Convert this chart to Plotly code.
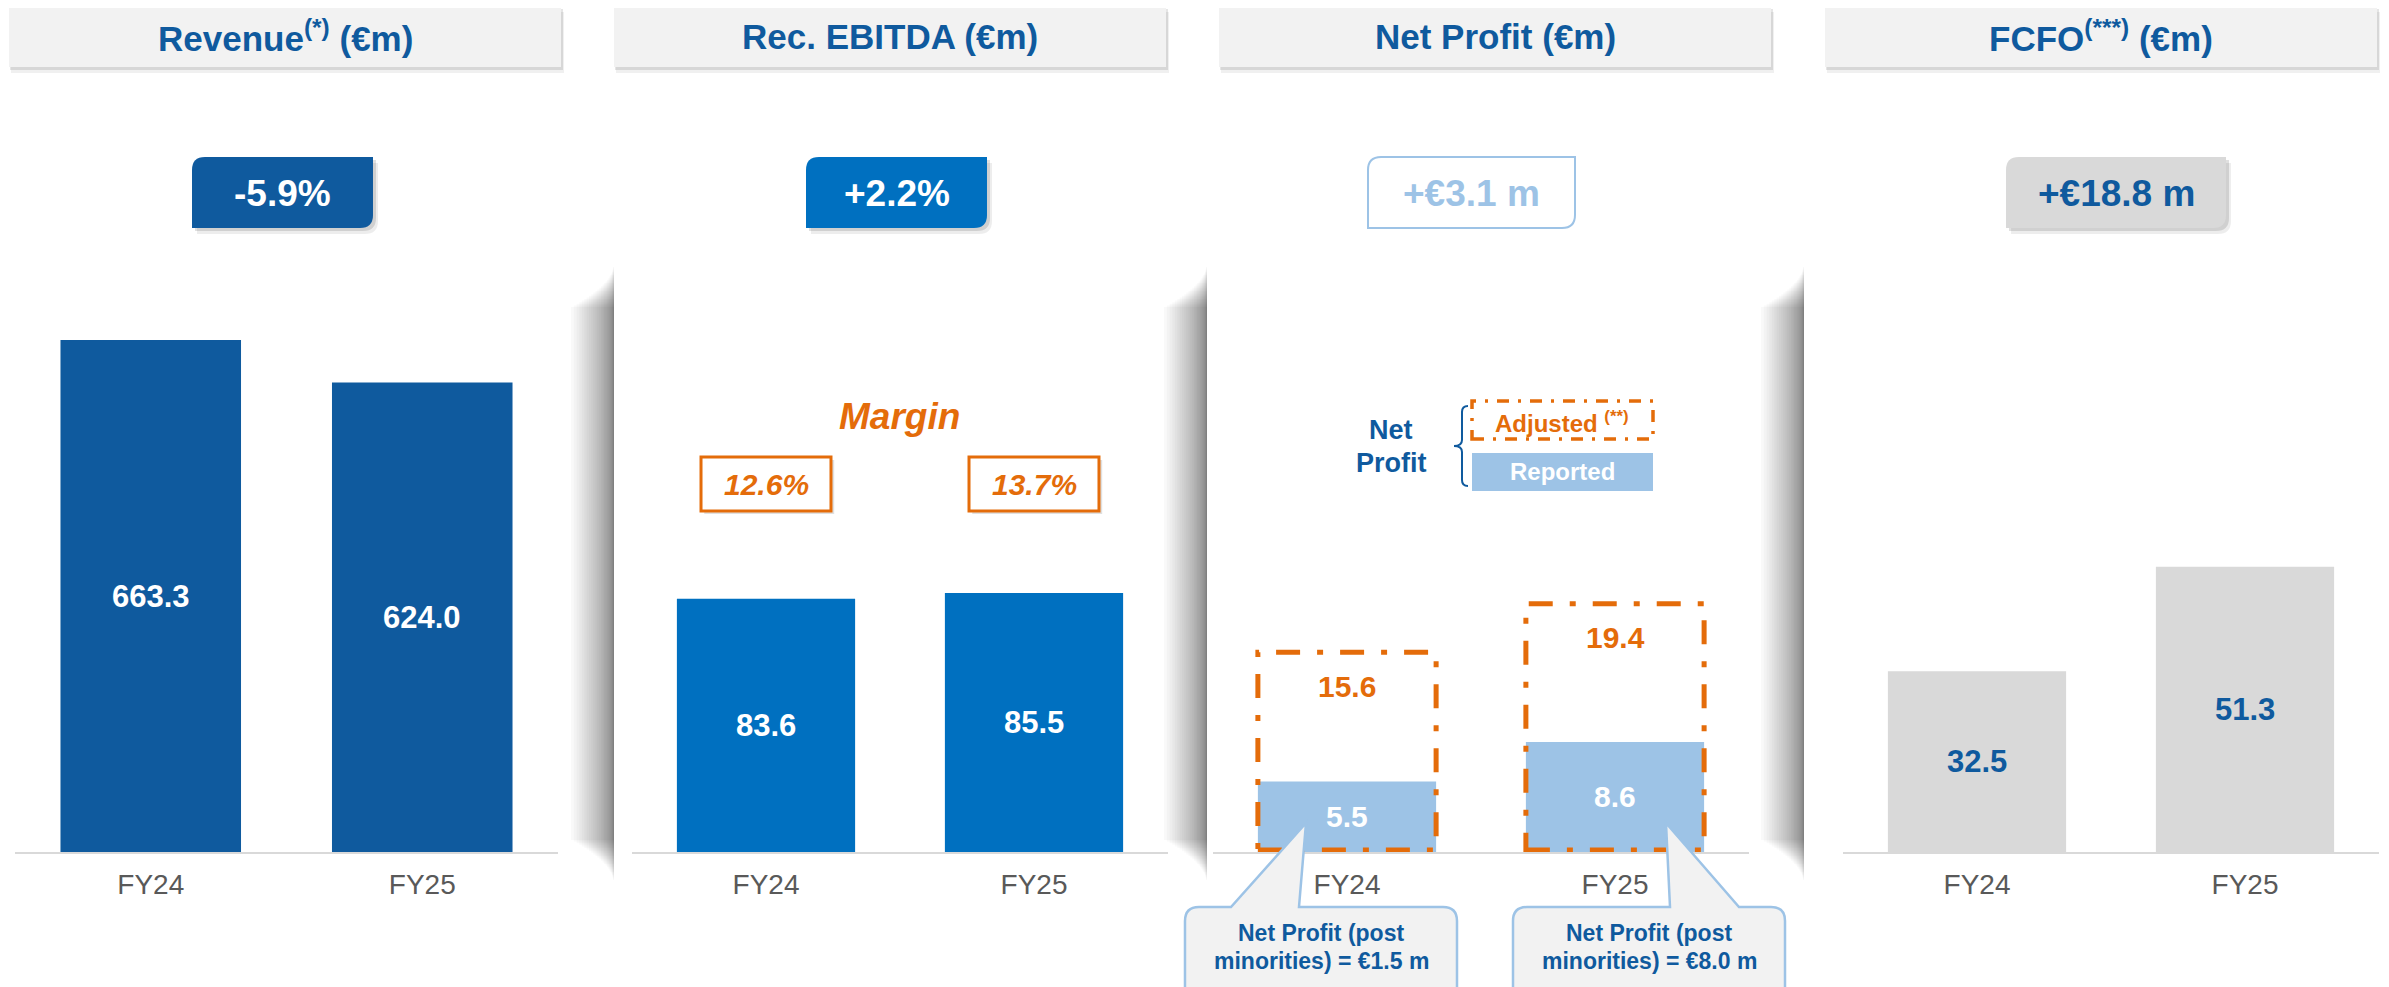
import plotly.graph_objects as go

# ---------------- data ----------------
categories = ["FY24", "FY25"]
revenue = [663.3, 624.0]
rec_ebitda = [83.6, 85.5]
ebitda_margin = [12.6, 13.7]
np_reported = [5.5, 8.6]
np_adjusted = [15.6, 19.4]
np_post_minorities = [1.5, 8.0]
fcfo = [32.5, 51.3]
change_labels = ["-5.9%", "+2.2%", "+€3.1 m", "+€18.8 m"]
panel_titles = ["Revenue<sup>(*)</sup> (€m)", "Rec. EBITDA (€m)",
                "Net Profit (€m)", "FCFO<sup>(***)</sup> (€m)"]

# ---------------- style ----------------
W, H = 2389, 987
OFF = 8
FONT = "Liberation Sans, Arial, sans-serif"
DARK = "#0F5A9E"
MID = "#0070C0"
LIGHT = "#9DC3E6"
GRAY = "#D9D9D9"
ORANGE = "#E46C0A"
HEADER = "#F2F2F2"
TICK = "#595959"


def X(p):
    return (p - OFF) / W


def Y(p):
    return 1 - (p - OFF) / H


def P(pts):
    """build svg path in paper coords from pixel commands"""
    out = []
    for cmd in pts:
        s = cmd[0]
        for (x, y) in cmd[1:]:
            s += f" {X(x):.5f},{Y(y):.5f}"
        out.append(s)
    return " ".join(out)


shapes = []
annotations = []


def rect_px(x0, y0, x1, y1, fill=None, line_color=None, line_width=0, layer="below", dash=None):
    d = dict(type="rect", xref="paper", yref="paper", x0=X(x0), x1=X(x1), y0=Y(y1), y1=Y(y0),
             layer=layer, line=dict(width=line_width, color=line_color or "rgba(0,0,0,0)"))
    if dash:
        d["line"]["dash"] = dash
    if fill:
        d["fillcolor"] = fill
    shapes.append(d)


def text_px(text, x, y, size, color, bold=True, italic=False, xanchor="center"):
    t = text
    if bold:
        t = f"<b>{t}</b>"
    if italic:
        t = f"<i>{t}</i>"
    annotations.append(dict(text=t, x=X(x), y=Y(y), xref="paper", yref="paper", showarrow=False,
                            xanchor=xanchor, yanchor="middle",
                            font=dict(family=FONT, size=size, color=color)))


# card shadows (smooth vertical gradients)
N = 26
for xe in [614, 1207, 1804]:
    for i in range(N):
        w = 1 + 42 * (i / (N - 1)) ** 1.7
        d = 1.6 * i
        rect_px(xe - w, 267 + d, xe, 880 - d, fill="rgba(0,0,0,0.024)")

# headers
headers = [(9, 561), (614, 1166), (1219, 1771), (1825, 2377)]
for (x0, x1), title in zip(headers, panel_titles):
    rect_px(x0 + 2, 6 + 6, x1 + 3, 67 + 6, fill="rgba(0,0,0,0.06)")
    rect_px(x0 + 1, 6 + 3, x1 + 2, 67 + 3, fill="rgba(0,0,0,0.10)")
    rect_px(x0, 6, x1, 67, fill=HEADER)
    text_px(title, (x0 + x1) / 2, 36, 35, DARK)


# badges
def badge(x0, x1, fill, border, txt, txtcolor, shadow=True):
    y0, y1, r = 157, 228, 13

    def pth(dx, dy):
        return P([("M", (x0 + r + dx, y0 + dy)), ("L", (x1 + dx, y0 + dy)), ("L", (x1 + dx, y1 - r + dy)),
                  ("Q", (x1 + dx, y1 + dy), (x1 - r + dx, y1 + dy)), ("L", (x0 + dx, y1 + dy)),
                  ("L", (x0 + dx, y0 + r + dy)), ("Q", (x0 + dx, y0 + dy), (x0 + r + dx, y0 + dy)), ("Z",)])
    if shadow:
        shapes.append(dict(type="path", path=pth(5, 6), xref="paper", yref="paper",
                           fillcolor="rgba(0,0,0,0.07)", line=dict(width=0), layer="below"))
        shapes.append(dict(type="path", path=pth(3, 3), xref="paper", yref="paper",
                           fillcolor="rgba(0,0,0,0.12)", line=dict(width=0), layer="below"))
    shapes.append(dict(type="path", path=pth(0, 0), xref="paper", yref="paper",
                       fillcolor=fill, line=dict(width=2 if border else 0, color=border or fill),
                       layer="below"))
    text_px(txt, (x0 + x1) / 2, 193, 37, txtcolor)


badge(192, 373, DARK, None, change_labels[0], "white")
badge(806, 987, MID, None, change_labels[1], "white")
badge(1368, 1575, "white", LIGHT, change_labels[2], LIGHT, shadow=False)
badge(2006, 2226, GRAY, None, change_labels[3], DARK)

# ---------------- axes / bars ----------------
ydom = [Y(852), Y(274)]
plot_h = 852 - 274
rev_base = 190
scales = {"rev": 512 / (revenue[0] - rev_base), "ebitda": 3.03, "np": 12.8, "fcfo": 5.56}
ranges = [
    [rev_base, rev_base + plot_h / scales["rev"]],
    [0, plot_h / scales["ebitda"]],
    [0, plot_h / scales["np"]],
    [0, plot_h / scales["fcfo"]],
]
xdoms = [(15, 558), (632, 1168), (1213, 1749), (1843, 2379)]
BW = 0.665

fig = go.Figure()
series = [revenue, rec_ebitda, np_reported, fcfo]
colors = [DARK, MID, LIGHT, GRAY]
for k, (vals, col) in enumerate(zip(series, colors)):
    ax = "" if k == 0 else str(k + 1)
    fig.add_trace(go.Bar(x=categories, y=vals, marker=dict(color=col, line=dict(width=0)),
                         width=BW, xaxis="x" + ax, yaxis="y" + ax, hoverinfo="skip"))
    fig.layout["xaxis" + ax] = dict(domain=[X(xdoms[k][0]), X(xdoms[k][1])], anchor="y" + ax,
                                    showline=True, linecolor=GRAY, linewidth=2, ticks="",
                                    showgrid=False, zeroline=False, ticklabelstandoff=6,
                                    tickfont=dict(family=FONT, size=28, color=TICK),
                                    range=[-0.5, 1.5], fixedrange=True)
    fig.layout["yaxis" + ax] = dict(domain=ydom, anchor="x" + ax, range=ranges[k], visible=False,
                                    showgrid=False, zeroline=False, fixedrange=True)

# value labels
label_cols = ["white", "white", "white", DARK]
for k, vals in enumerate(series):
    ax = "" if k == 0 else str(k + 1)
    lo = ranges[k][0]
    for c, v in zip(categories, vals):
        annotations.append(dict(text=f"<b>{v:.1f}</b>", x=c, y=(lo + v) / 2, xref="x" + ax, yref="y" + ax,
                                showarrow=False, font=dict(family=FONT, size=31 if k != 2 else 30,
                                                           color=label_cols[k])))

# adjusted net profit (dash-dot boxes) + labels
for i, (c, v) in enumerate(zip(categories, np_adjusted)):
    shapes.append(dict(type="rect", xref="x3", yref="y3", x0=i - BW / 2, x1=i + BW / 2, y0=0.15, y1=v,
                       line=dict(color=ORANGE, width=5, dash="24px,17px,6px,17px"), layer="above"))
    annotations.append(dict(text=f"<b>{v:.1f}</b>", x=c, y=v, xref="x3", yref="y3", yshift=-34,
                            showarrow=False, font=dict(family=FONT, size=30, color=ORANGE)))

# EBITDA margin
text_px("Margin", 900, 416, 37, ORANGE, italic=True)
for i, m in enumerate(ebitda_margin):
    shapes.append(dict(type="rect", xref="x2", yref="paper", x0=i - 0.2425 + 0.012, x1=i + 0.2425 + 0.012,
                       y0=Y(511 + 3), y1=Y(457 + 3), fillcolor="rgba(0,0,0,0.12)", line=dict(width=0),
                       layer="below"))
    shapes.append(dict(type="rect", xref="x2", yref="paper", x0=i - 0.2425, x1=i + 0.2425,
                       y0=Y(511), y1=Y(457), fillcolor="white", line=dict(width=3, color=ORANGE),
                       layer="below"))
    annotations.append(dict(text=f"<i><b>{m:.1f}%</b></i>", x=i, y=Y(484), xref="x2", yref="paper",
                            showarrow=False, font=dict(family=FONT, size=30, color=ORANGE)))

# Net profit legend
text_px("Net", 1391, 430, 27, DARK)
text_px("Profit", 1391, 463, 27, DARK)
shapes.append(dict(type="path", xref="paper", yref="paper", layer="above",
                   path=P([("M", (1468, 406)), ("Q", (1462, 406), (1462, 412)), ("L", (1462, 440)),
                           ("Q", (1462, 446), (1454, 446)), ("Q", (1462, 446), (1462, 452)),
                           ("L", (1462, 480)), ("Q", (1462, 486), (1468, 486))]),
                   line=dict(color=DARK, width=2)))
rect_px(1472, 401, 1653, 439, fill="white", line_color=ORANGE, line_width=3.5, layer="above",
        dash="12px,9px,3px,9px")
text_px("Adjusted <sup>(**)</sup>", 1562, 422, 24, ORANGE)
rect_px(1472, 453, 1653, 491, fill=LIGHT, layer="above")
text_px("Reported", 1562, 472, 24, "white")


# callouts
def callout(x0, x1, bl, br, tip, lines):
    y0, yb, r = 907, 1010, 14
    pth = P([("M", (x0 + r, y0)), ("L", (bl, y0)), ("L", tip), ("L", (br, y0)), ("L", (x1 - r, y0)),
             ("Q", (x1, y0), (x1, y0 + r)), ("L", (x1, yb)), ("L", (x0, yb)), ("L", (x0, y0 + r)),
             ("Q", (x0, y0), (x0 + r, y0)), ("Z",)])
    shapes.append(dict(type="path", path=pth, xref="paper", yref="paper", fillcolor=HEADER,
                       line=dict(color=LIGHT, width=2.5), layer="above"))
    cx = (x0 + x1) / 2
    text_px(lines[0], cx, 933, 23, DARK)
    text_px(lines[1], cx, 961, 23, DARK)


callout(1185, 1457, 1231, 1299, (1306, 823),
        ["Net Profit (post", f"minorities) = €{np_post_minorities[0]:.1f} m"])
callout(1513, 1785, 1670, 1739, (1666, 823),
        ["Net Profit (post", f"minorities) = €{np_post_minorities[1]:.1f} m"])

fig.update_layout(width=W, height=H, margin=dict(l=0, r=0, t=0, b=0), paper_bgcolor="white",
                  plot_bgcolor="rgba(0,0,0,0)", showlegend=False, shapes=shapes, annotations=annotations,
                  font=dict(family=FONT))
fig.write_html("out.html")
